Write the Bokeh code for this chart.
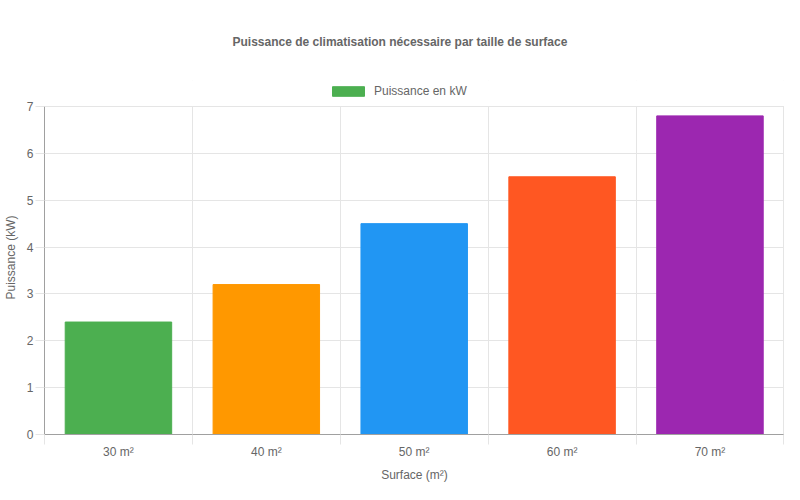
from bokeh.plotting import figure
from bokeh.models import FixedTicker, Range1d, ColumnDataSource, Legend, LegendItem
from bokeh.embed import file_html
from bokeh.resources import INLINE

categories = ["30 m²", "40 m²", "50 m²", "60 m²", "70 m²"]
values = [2.4, 3.2, 4.5, 5.5, 6.8]
colors = ["#4CAF50", "#FF9800", "#2196F3", "#FF5722", "#9C27B0"]
title_text = "Puissance de climatisation nécessaire par taille de surface"
series_name = "Puissance en kW"
x_title = "Surface (m²)"
y_title = "Puissance (kW)"
y_ticks = [0, 1, 2, 3, 4, 5, 6, 7]

FONT = "Liberation Sans"
TXT = "#666666"
GRID = "#e5e5e5"
Y_MAX = 7
Y_TOP = 7.555   # extra room above the axis for the legend

n = len(categories)
xs = [i + 0.5 for i in range(n)]
src = ColumnDataSource(dict(x=xs, top=values, color=colors, cat=categories))

p = figure(width=784, height=484, output_backend="svg", toolbar_location=None,
           x_range=Range1d(0, n + 0.004), y_range=Range1d(0, Y_TOP),
           min_border_left=30, min_border_right=0, min_border_top=80, min_border_bottom=30)
p.outline_line_color = None
p.background_fill_color = "white"

r = p.vbar(x="x", top="top", width=0.72, bottom=0, source=src,
           fill_color="color", line_color="color", line_width=1)

# white cover above the value axis (hides grid above the top tick)
p.quad(left=[0], right=[n + 0.01], bottom=[Y_MAX + 0.01], top=[Y_TOP + 1],
       fill_color="white", line_color=None)

# title
p.title.text = title_text
p.title.align = "left"
p.title.offset = 188
p.title.vertical_align = "top"
p.title.text_font = FONT
p.title.text_font_size = "12px"
p.title.text_font_style = "bold"
p.title.text_color = TXT
p.title.standoff = 60

# x axis
xt = FixedTicker(ticks=xs, minor_ticks=list(range(n + 1)))
p.xaxis.ticker = xt
p.xaxis.major_label_overrides = {x: c for x, c in zip(xs, categories)}
p.xaxis.major_tick_out = 0
p.xaxis.major_tick_in = 0
p.xaxis.minor_tick_out = 10
p.xaxis.minor_tick_in = 0
p.xaxis.minor_tick_line_color = GRID
p.xaxis.axis_line_color = "#a0a0a0"
p.xaxis.major_label_text_font = FONT
p.xaxis.major_label_text_font_size = "12px"
p.xaxis.major_label_text_color = TXT
p.xaxis.major_label_standoff = 0
p.xaxis.axis_label = x_title
p.xaxis.axis_label_text_font = FONT
p.xaxis.axis_label_text_font_size = "12px"
p.xaxis.axis_label_text_font_style = "normal"
p.xaxis.axis_label_text_color = TXT
p.xaxis.axis_label_standoff = 6

# y axis
p.yaxis.ticker = FixedTicker(ticks=y_ticks)
p.yaxis.bounds = (0, Y_MAX)
p.yaxis.major_tick_out = 9
p.yaxis.major_tick_in = 0
p.yaxis.minor_tick_out = 0
p.yaxis.minor_tick_in = 0
p.yaxis.major_tick_line_color = GRID
p.yaxis.axis_line_color = "#a0a0a0"
p.yaxis.major_label_text_font = FONT
p.yaxis.major_label_text_font_size = "12px"
p.yaxis.major_label_text_color = TXT
p.yaxis.major_label_standoff = 2
p.yaxis.axis_label = y_title
p.yaxis.axis_label_text_font = FONT
p.yaxis.axis_label_text_font_size = "12px"
p.yaxis.axis_label_text_font_style = "normal"
p.yaxis.axis_label_text_color = TXT
p.yaxis.axis_label_standoff = 6

# grids
p.xgrid.ticker = FixedTicker(ticks=list(range(n + 1)))
p.xgrid.grid_line_color = GRID
p.ygrid.ticker = FixedTicker(ticks=y_ticks)
p.ygrid.grid_line_color = GRID

legend = Legend(items=[LegendItem(label=series_name, renderers=[r], index=0)],
                orientation="horizontal", location=(284, 336),
                glyph_width=40, glyph_height=12, label_text_font=FONT,
                label_text_font_size="12px", label_text_color=TXT,
                label_standoff=6, label_height=12, padding=0, margin=0,
                border_line_color=None, background_fill_alpha=0)
p.add_layout(legend, "center")

open("out.html", "w").write(file_html(p, INLINE))
